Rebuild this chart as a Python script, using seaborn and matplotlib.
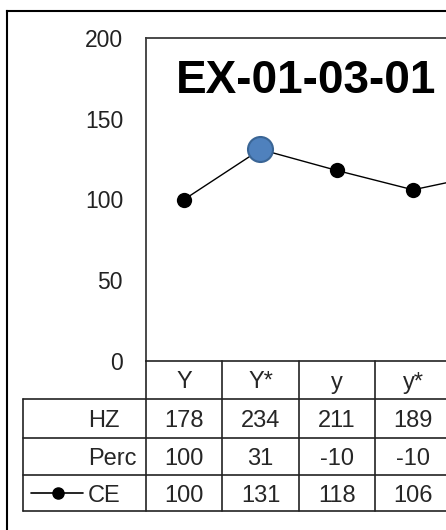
import pandas as pd
import seaborn as sns
import matplotlib.pyplot as plt
import matplotlib.transforms as mtransforms
from matplotlib.lines import Line2D

# Datos de la tabla / serie
categories = ["Y", "Y*", "y", "y*"]
hz = [178, 234, 211, 189]
perc = [100, 31, -10, -10]
ce = [100, 131, 118, 106]
# la linea sigue hacia un quinto punto fuera del recorte, solo se ve su inicio
ce_next = 116
highlight = "Y*"
title = "EX-01-03-01"
yticks = [0, 50, 100, 150, 200]

sns.set_style("white")
plt.rcParams["font.family"] = ["Liberation Sans", "DejaVu Sans"]

W, H = 446, 530
fig = plt.figure(figsize=(W / 100, H / 100), dpi=100)


def fx(px):
    return px / W


def fy(py):
    return 1 - py / H


# el area del grafico sigue a la derecha de la imagen (esta recortada)
col_w = 76.3
ax = fig.add_axes([fx(146), fy(361), fx(col_w * 5), (361 - 38) / H])

df = pd.DataFrame({"pos": range(len(ce) + 1), "CE": ce + [ce_next]})
sns.lineplot(data=df, x="pos", y="CE", ax=ax, color="black", linewidth=1,
             marker="o", markersize=11, markeredgewidth=0)
hi = df[df["pos"] == categories.index(highlight)]
sns.scatterplot(data=hi, x="pos", y="CE", ax=ax, s=18 ** 2, color="#4F81BD",
                edgecolor="#3A6595", linewidth=1.5, zorder=5)

ax.set_xlim(-0.5, 4.5)
ax.set_ylim(0, 200)
ax.set_yticks(yticks)
ax.set_xticks([])
ax.set_xlabel("")
ax.set_ylabel("")
ax.tick_params(axis="y", length=0, pad=16.5, labelsize=16.5, labelcolor="#222222")
for side in ["top", "left"]:
    ax.spines[side].set_color("#3a3a3a")
    ax.spines[side].set_linewidth(1.3)
ax.spines["bottom"].set_color("#222222")
ax.spines["bottom"].set_linewidth(1.2)
ax.spines["right"].set_visible(False)

# Titulo
fig.text(fx(306), fy(93), title, ha="center", va="baseline",
         fontsize=33, fontweight="bold", color="black")

# Tabla de datos debajo del eje
blend = mtransforms.blended_transform_factory(ax.transData, fig.transFigure)
row_edges = [361, 399, 438, 475, 511]
row_mid = [(a + b) / 2 for a, b in zip(row_edges[:-1], row_edges[1:])]
line_kw = dict(transform=fig.transFigure, color="#222222", linewidth=1.2)

for i, cat in enumerate(categories):
    ax.text(i, fy(row_mid[0]), cat, transform=blend, ha="center",
            va="center_baseline", fontsize=17)
    for r, vals in enumerate([hz, perc, ce], start=1):
        ax.text(i, fy(row_mid[r]), str(vals[i]), transform=blend, ha="center",
                va="center_baseline", fontsize=17)

# lineas horizontales
for y in row_edges[1:]:
    fig.add_artist(Line2D([fx(23), 1], [fy(y), fy(y)], **line_kw))
# lineas verticales
fig.add_artist(Line2D([fx(23), fx(23)], [fy(399), fy(511)], **line_kw))
for i in range(len(categories) + 1):
    xpix = ax.transData.transform((i - 0.5, 0))[0]
    fig.add_artist(Line2D([xpix / W, xpix / W], [fy(361), fy(511)], **line_kw))

# encabezados de fila
for r, name in enumerate(["HZ", "Perc", "CE"], start=1):
    fig.text(fx(88), fy(row_mid[r]), name, ha="left", va="center_baseline",
             fontsize=17)
# clave de leyenda para CE
fig.add_artist(Line2D([fx(31), fx(83)], [fy(row_mid[3]), fy(row_mid[3])],
                      transform=fig.transFigure, color="black", linewidth=1.2))
fig.add_artist(Line2D([fx(58)], [fy(row_mid[3])], transform=fig.transFigure,
                      marker="o", markersize=8, color="black", linestyle="none"))

# marco exterior
frame_kw = dict(transform=fig.transFigure, color="black", linewidth=1.5,
                solid_capstyle="projecting")
fig.add_artist(Line2D([fx(7), 1], [fy(11), fy(11)], **frame_kw))
fig.add_artist(Line2D([fx(7), fx(7)], [fy(11), 0], **frame_kw))

fig.savefig("out.png", dpi=100)
